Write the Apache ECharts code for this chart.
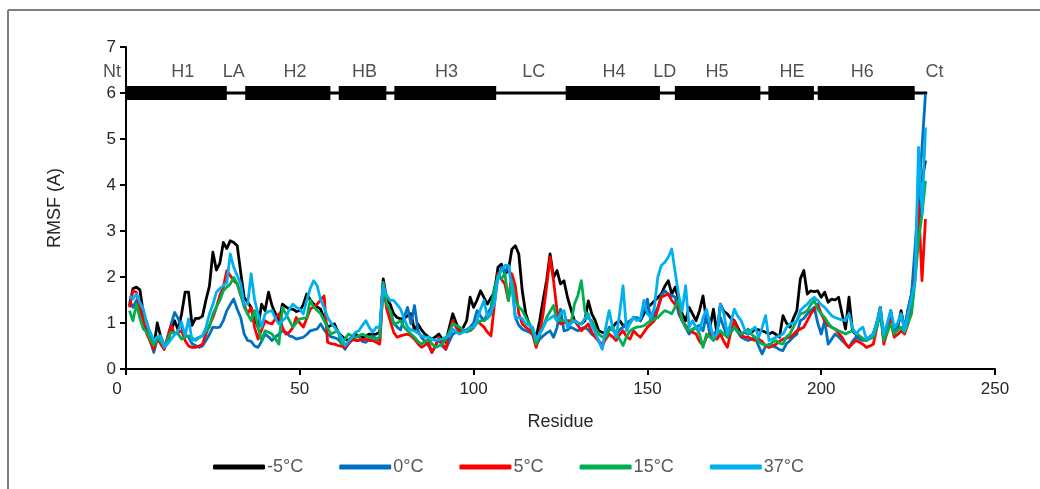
<!DOCTYPE html>
<html><head><meta charset="utf-8">
<script src="https://cdn.jsdelivr.net/npm/echarts@6/dist/echarts.min.js"></script>
<style>html,body{margin:0;padding:0;background:#fff}#c{width:1040px;height:489px}</style>
</head><body><div id="c"></div>
<script>
// ---- data ----
const seriesNames = ['-5°C', '0°C', '5°C', '15°C', '37°C'];
const seriesColors = ['#000000', '#0070C0', '#FF0000', '#00B050', '#00B0F0'];
const firstResidue = 1;
const rmsfM5 = [1.38,1.75,1.78,1.72,1.2,1.0,0.7,0.47,1.0,0.7,0.5,0.6,0.85,1.05,0.85,1.2,1.67,1.67,0.95,1.1,1.1,1.15,1.5,1.8,2.54,2.15,2.3,2.75,2.62,2.79,2.75,2.68,2.1,1.56,1.45,1.34,1.1,0.91,1.41,1.27,1.67,1.38,1.2,1.01,1.41,1.35,1.3,1.3,1.25,1.27,1.4,1.63,1.5,1.41,1.35,1.3,1.1,0.91,0.95,0.98,0.8,0.72,0.65,0.62,0.7,0.76,0.7,0.69,0.72,0.76,0.75,0.76,0.8,1.96,1.5,1.41,1.2,1.12,1.09,1.1,1.16,1.2,0.83,0.98,0.85,0.76,0.7,0.65,0.7,0.76,0.65,0.58,0.9,1.2,1.0,0.8,0.9,1.05,1.56,1.34,1.5,1.7,1.55,1.41,1.55,1.67,2.21,2.28,2.07,2.14,2.6,2.68,2.5,1.7,1.2,0.98,0.85,0.69,1.05,1.5,1.92,2.5,1.99,2.14,1.85,1.92,1.56,1.3,1.05,1.0,0.98,1.05,1.48,1.2,1.05,0.83,0.8,0.76,0.85,0.91,1.0,1.05,0.95,0.91,1.0,1.12,1.1,1.05,1.2,1.34,1.4,1.48,1.55,1.63,1.8,1.92,1.63,1.78,1.5,1.2,1.05,1.34,1.2,1.05,1.27,1.59,1.05,0.91,1.3,0.76,1.41,1.25,1.2,1.1,1.05,0.9,0.76,0.8,0.76,0.8,0.87,0.85,0.83,0.8,0.76,0.8,0.75,0.69,1.16,1.0,0.91,1.1,1.27,1.96,2.14,1.63,1.7,1.68,1.7,1.56,1.67,1.45,1.52,1.5,1.56,1.2,0.87,1.56,0.83,0.75,0.69,0.65,0.62,0.7,0.76,1.0,1.34,0.69,0.9,1.27,0.76,0.9,1.27,0.83,1.3,1.63,2.28,3.0,4.1,4.53];
const rmsf0 = [1.49,1.34,1.49,1.3,1.05,0.85,0.6,0.36,0.65,0.55,0.43,0.7,0.98,1.23,1.1,0.91,0.75,0.69,0.55,0.51,0.47,0.5,0.62,0.75,0.91,0.9,0.91,1.05,1.27,1.4,1.52,1.3,1.12,0.76,0.62,0.6,0.5,0.47,0.6,0.76,0.7,0.62,0.7,0.76,0.83,0.8,0.72,0.7,0.65,0.67,0.69,0.75,0.83,0.85,0.87,0.98,0.85,0.76,0.7,0.68,0.65,0.55,0.43,0.55,0.62,0.68,0.72,0.6,0.58,0.65,0.72,0.65,0.62,1.81,1.4,1.27,1.0,0.91,0.85,1.12,1.34,0.98,1.38,0.83,0.69,0.6,0.51,0.36,0.5,0.65,0.5,0.43,0.6,0.76,0.8,0.83,0.83,0.85,0.91,1.0,1.27,1.15,1.05,1.2,1.34,1.78,1.95,2.21,2.1,2.25,1.92,1.12,0.95,0.87,0.83,0.8,0.75,0.51,0.65,0.72,0.78,0.83,0.69,0.9,1.3,0.83,0.85,0.91,0.87,0.83,0.88,0.91,0.85,0.76,0.7,0.62,0.47,0.7,0.91,0.85,0.76,0.85,0.91,1.0,1.05,1.1,1.12,1.05,1.3,1.52,1.05,1.2,1.34,1.6,1.7,1.63,1.6,1.56,1.2,1.05,0.91,0.76,0.85,0.91,0.95,0.83,1.2,0.72,0.76,0.83,1.12,0.9,0.69,0.8,0.91,0.8,0.69,0.65,0.62,0.65,0.69,0.5,0.33,0.5,0.54,0.5,0.47,0.42,0.4,0.55,0.62,0.7,0.76,1.05,1.1,1.2,1.27,1.34,1.0,0.76,1.05,0.54,0.65,0.76,0.7,0.62,0.55,0.47,0.6,0.69,0.65,0.62,0.65,0.7,0.76,1.0,1.27,0.69,0.95,1.2,0.76,0.95,1.2,0.91,1.3,1.63,2.64,3.73,4.82,5.98];
const rmsf5 = [1.34,1.7,1.67,1.3,1.05,0.76,0.6,0.43,0.69,0.55,0.43,0.7,0.94,0.76,0.8,0.83,0.62,0.5,0.47,0.47,0.5,0.54,0.76,0.95,1.12,1.34,1.6,1.78,2.14,2.03,1.92,1.85,1.6,1.4,1.2,1.34,0.9,0.65,0.85,1.05,1.0,0.98,1.1,1.2,0.9,0.76,0.8,0.9,1.12,1.0,0.91,1.1,1.3,1.35,1.41,1.5,1.59,0.58,0.55,0.54,0.51,0.5,0.47,0.55,0.65,0.62,0.62,0.64,0.65,0.62,0.62,0.58,0.54,1.85,1.3,1.05,0.8,0.69,0.72,0.74,0.76,0.72,0.65,0.55,0.47,0.52,0.58,0.36,0.5,0.69,0.55,0.43,0.8,1.05,0.9,0.8,0.82,0.83,0.83,0.9,1.05,0.98,0.91,0.8,0.72,1.41,2.07,1.95,1.85,1.49,2.07,1.81,1.2,0.98,0.91,0.85,0.76,0.47,0.76,1.2,1.78,2.43,1.92,1.27,0.98,1.0,1.05,1.05,1.05,0.95,0.83,0.9,0.98,0.8,0.69,0.6,0.54,0.65,0.76,0.7,0.62,0.75,0.83,0.7,0.65,0.83,0.75,0.69,0.8,0.91,0.98,1.05,1.3,1.56,1.6,1.63,1.49,1.4,1.34,1.05,0.95,0.83,0.8,0.76,0.6,0.51,0.69,0.76,0.68,0.65,0.76,0.6,0.47,0.8,1.05,0.85,0.72,0.7,0.69,0.65,0.62,0.65,0.6,0.5,0.47,0.5,0.54,0.6,0.65,0.67,0.69,0.75,0.83,0.87,0.91,1.05,1.2,1.3,1.41,1.2,1.05,0.95,0.91,0.87,0.78,0.69,0.55,0.47,0.55,0.62,0.58,0.54,0.47,0.5,0.54,0.9,1.34,0.54,0.8,1.05,0.69,0.75,0.83,0.76,1.0,1.34,2.07,3.59,1.92,3.26];
const rmsf15 = [1.27,1.05,1.41,1.1,0.87,0.8,0.65,0.51,0.69,0.6,0.51,0.65,0.8,0.78,0.76,0.65,0.7,0.72,0.68,0.62,0.68,0.72,0.82,0.91,1.2,1.35,1.49,1.7,1.78,1.85,1.99,1.85,1.63,1.34,1.2,1.05,1.27,0.9,0.62,0.83,0.8,0.76,0.65,0.54,1.34,1.2,1.05,0.91,1.0,1.09,1.1,1.12,1.49,1.35,1.27,1.2,1.05,0.9,0.76,0.8,0.83,0.54,0.65,0.76,0.72,0.69,0.72,0.76,0.72,0.69,0.67,0.65,0.7,1.88,1.4,1.27,0.98,1.0,1.05,0.91,0.83,0.76,0.69,0.6,0.54,0.6,0.65,0.55,0.47,0.5,0.54,0.65,0.8,0.98,0.95,0.91,0.85,0.8,0.85,0.91,1.0,1.05,1.05,1.1,1.2,1.7,2.03,1.96,2.07,1.49,1.92,1.49,1.35,1.27,1.12,1.0,0.83,0.54,0.75,0.91,1.12,1.25,1.38,1.05,1.05,1.05,1.0,0.98,1.41,1.6,1.92,1.27,1.1,1.05,0.9,0.76,0.7,0.69,0.85,0.91,0.76,0.65,0.51,0.7,0.83,0.88,0.91,0.92,0.94,1.0,1.05,1.08,1.12,1.2,1.27,1.24,1.2,1.35,1.49,1.05,0.9,0.83,0.87,0.91,0.76,0.47,0.76,0.7,0.62,0.76,0.83,0.75,0.69,0.8,0.91,0.82,0.76,0.8,0.87,0.75,0.69,0.6,0.54,0.52,0.51,0.58,0.62,0.56,0.54,0.7,0.76,0.91,1.05,1.2,1.22,1.27,1.4,1.49,1.3,1.2,1.12,1.0,0.91,0.87,0.83,0.8,0.76,0.8,0.83,0.78,0.72,0.66,0.62,0.66,0.69,0.9,1.2,0.62,0.8,0.98,0.76,0.85,0.91,0.8,1.0,1.2,1.92,2.79,3.37,4.09];
const rmsf37 = [1.59,1.52,1.63,1.45,1.3,0.98,0.8,0.62,0.7,0.72,0.47,0.55,0.65,0.75,0.83,1.01,0.72,1.09,0.62,0.65,0.69,0.72,0.9,1.2,1.4,1.67,1.75,1.81,1.88,2.5,2.21,2.03,1.85,1.41,1.41,2.07,1.5,1.2,0.91,1.2,1.25,1.27,1.1,0.98,1.05,1.12,1.3,1.41,1.34,1.3,1.2,1.49,1.75,1.92,1.81,1.5,1.34,1.12,1.0,0.91,0.8,0.69,0.51,0.6,0.69,0.8,0.83,0.95,1.05,0.9,0.8,0.91,0.9,1.81,1.6,1.49,1.49,1.4,1.3,1.1,0.91,0.85,0.83,0.78,0.72,0.7,0.69,0.65,0.62,0.64,0.65,0.7,0.72,0.87,0.8,0.76,0.8,0.83,0.9,0.91,1.05,1.3,1.49,1.12,1.25,1.41,1.99,2.15,2.25,2.25,1.78,1.12,1.12,1.1,0.98,0.95,0.91,0.65,0.76,0.9,1.05,1.1,1.16,1.05,1.2,1.27,0.91,1.0,1.05,1.0,0.98,1.1,1.2,0.95,0.8,0.6,0.43,0.9,1.27,0.9,0.69,1.2,1.81,0.83,1.0,1.12,1.05,1.1,1.49,1.2,1.12,1.34,2.0,2.25,2.32,2.43,2.61,2.1,1.6,1.27,1.81,0.91,1.05,0.9,0.83,1.12,1.3,0.98,0.69,0.76,1.41,1.2,0.76,1.0,1.3,1.15,1.05,0.85,0.76,0.85,0.91,0.69,0.9,1.16,0.62,0.65,0.69,0.72,0.76,0.9,0.98,1.0,1.05,1.27,1.35,1.41,1.5,1.56,1.49,1.4,1.34,1.25,1.16,1.12,1.09,1.07,1.05,1.2,0.9,0.76,0.85,0.91,0.65,0.7,0.76,1.0,1.34,0.76,1.0,1.27,0.91,1.0,1.2,0.83,1.2,1.56,1.92,4.82,3.37,5.25];
// secondary structure (residue ranges) at RMSF level 6
const ssLevel = 6;
const backbone = [0, 230.5];
const helixNames = ['H1', 'H2', 'HB', 'H3', 'H4', 'H5', 'HE', 'H6'];
const helixStart = [0, 34.3, 61.2, 77.2, 126.5, 157.9, 184.8, 199];
const helixEnd = [29, 58.8, 74.9, 106.5, 153.6, 182.5, 197.9, 226.9];
const ssLabels = ['Nt', 'H1', 'LA', 'H2', 'HB', 'H3', 'LC', 'H4', 'LD', 'H5', 'HE', 'H6', 'Ct'];
const ssLabelX = [-4, 16.3, 31, 48.6, 68.6, 92.2, 117.3, 140.4, 155, 170, 191.6, 211.8, 232.6];
const ssLabelLevel = 6.45;
const xTicks = [0, 50, 100, 150, 200, 250];
const yTicks = [0, 1, 2, 3, 4, 5, 6, 7];

// ---- chart ----
const allSeries = [rmsfM5, rmsf0, rmsf5, rmsf15, rmsf37];
const font = 'Liberation Sans, Arial, sans-serif';
const chart = echarts.init(document.getElementById('c'), null, {renderer: 'canvas'});
const lineSeries = allSeries.map((arr, i) => ({
  name: seriesNames[i], type: 'line', showSymbol: false, symbol: 'none',
  data: arr.map((v, k) => [firstResidue + k, v]),
  lineStyle: {color: seriesColors[i], width: 2.8, join: 'round'},
  itemStyle: {color: seriesColors[i]},
  z: 3 + i, clip: false, animation: false
}));
const helixData = helixNames.map((n, i) => [helixStart[i], helixEnd[i], ssLevel]);
chart.setOption({
  animation: false,
  backgroundColor: '#ffffff',
  grid: {left: 126, right: 45, top: 47, bottom: 120, containLabel: false},
  xAxis: {
    type: 'value', min: xTicks[0], max: xTicks[xTicks.length - 1], interval: 50,
    name: 'Residue', nameLocation: 'middle', nameGap: 44,
    nameTextStyle: {color: '#262626', fontSize: 18, fontFamily: font},
    axisLine: {lineStyle: {color: '#000', width: 2}},
    axisTick: {show: true, length: 6, lineStyle: {color: '#000', width: 2}},
    axisLabel: {color: '#262626', fontSize: 17, fontFamily: font, margin: 12,
      formatter: v => v === 0 ? '{z|0}' : String(v),
      rich: {z: {padding: [0, 18, 0, 0], color: '#262626', fontSize: 17, fontFamily: font}}},
    splitLine: {show: false}
  },
  yAxis: {
    type: 'value', min: yTicks[0], max: yTicks[yTicks.length - 1], interval: 1,
    name: 'RMSF (A)', nameLocation: 'middle', nameGap: 62, nameRotate: 90,
    nameTextStyle: {color: '#262626', fontSize: 18, fontFamily: font},
    axisLine: {show: true, lineStyle: {color: '#000', width: 2}},
    axisTick: {show: true, length: 6, lineStyle: {color: '#000', width: 2}},
    axisLabel: {color: '#262626', fontSize: 17, fontFamily: font, margin: 10},
    splitLine: {show: false}
  },
  legend: {
    data: seriesNames, bottom: 8, left: 208, icon: 'roundRect',
    itemWidth: 52, itemHeight: 5, itemGap: 36,
    textStyle: {color: '#595959', fontSize: 18, fontFamily: font, padding: [0, 0, 0, -3]}
  },
  graphic: [
    {type: 'line', shape: {x1: 8, y1: 10, x2: 1040, y2: 10}, style: {stroke: '#7f7f7f', lineWidth: 2}, silent: true},
    {type: 'line', shape: {x1: 8, y1: 10, x2: 8, y2: 489}, style: {stroke: '#7f7f7f', lineWidth: 2}, silent: true}
  ],
  series: [
    {type: 'line', name: 'backbone', data: backbone.map(x => [x, ssLevel]), symbol: 'none',
      lineStyle: {color: '#000', width: 3}, z: 1, clip: false, legendHoverLink: false, silent: true},
    {type: 'custom', name: 'helix', data: helixData, z: 2, silent: true,
      renderItem: (params, api) => {
        const a = api.coord([api.value(0), api.value(2)]);
        const b = api.coord([api.value(1), api.value(2)]);
        return {type: 'rect', shape: {x: a[0], y: a[1] - 7, width: b[0] - a[0], height: 14},
          style: {fill: '#000'}};
      }},
    {type: 'scatter', name: 'sslabels', symbolSize: 0, clip: false, silent: true,
      data: ssLabels.map((t, i) => ({value: [ssLabelX[i], ssLabelLevel], name: t})),
      label: {show: true, position: 'inside', formatter: p => p.name,
        color: '#262626', fontSize: 18, fontFamily: font}},
    ...lineSeries
  ]
});
</script></body></html>
